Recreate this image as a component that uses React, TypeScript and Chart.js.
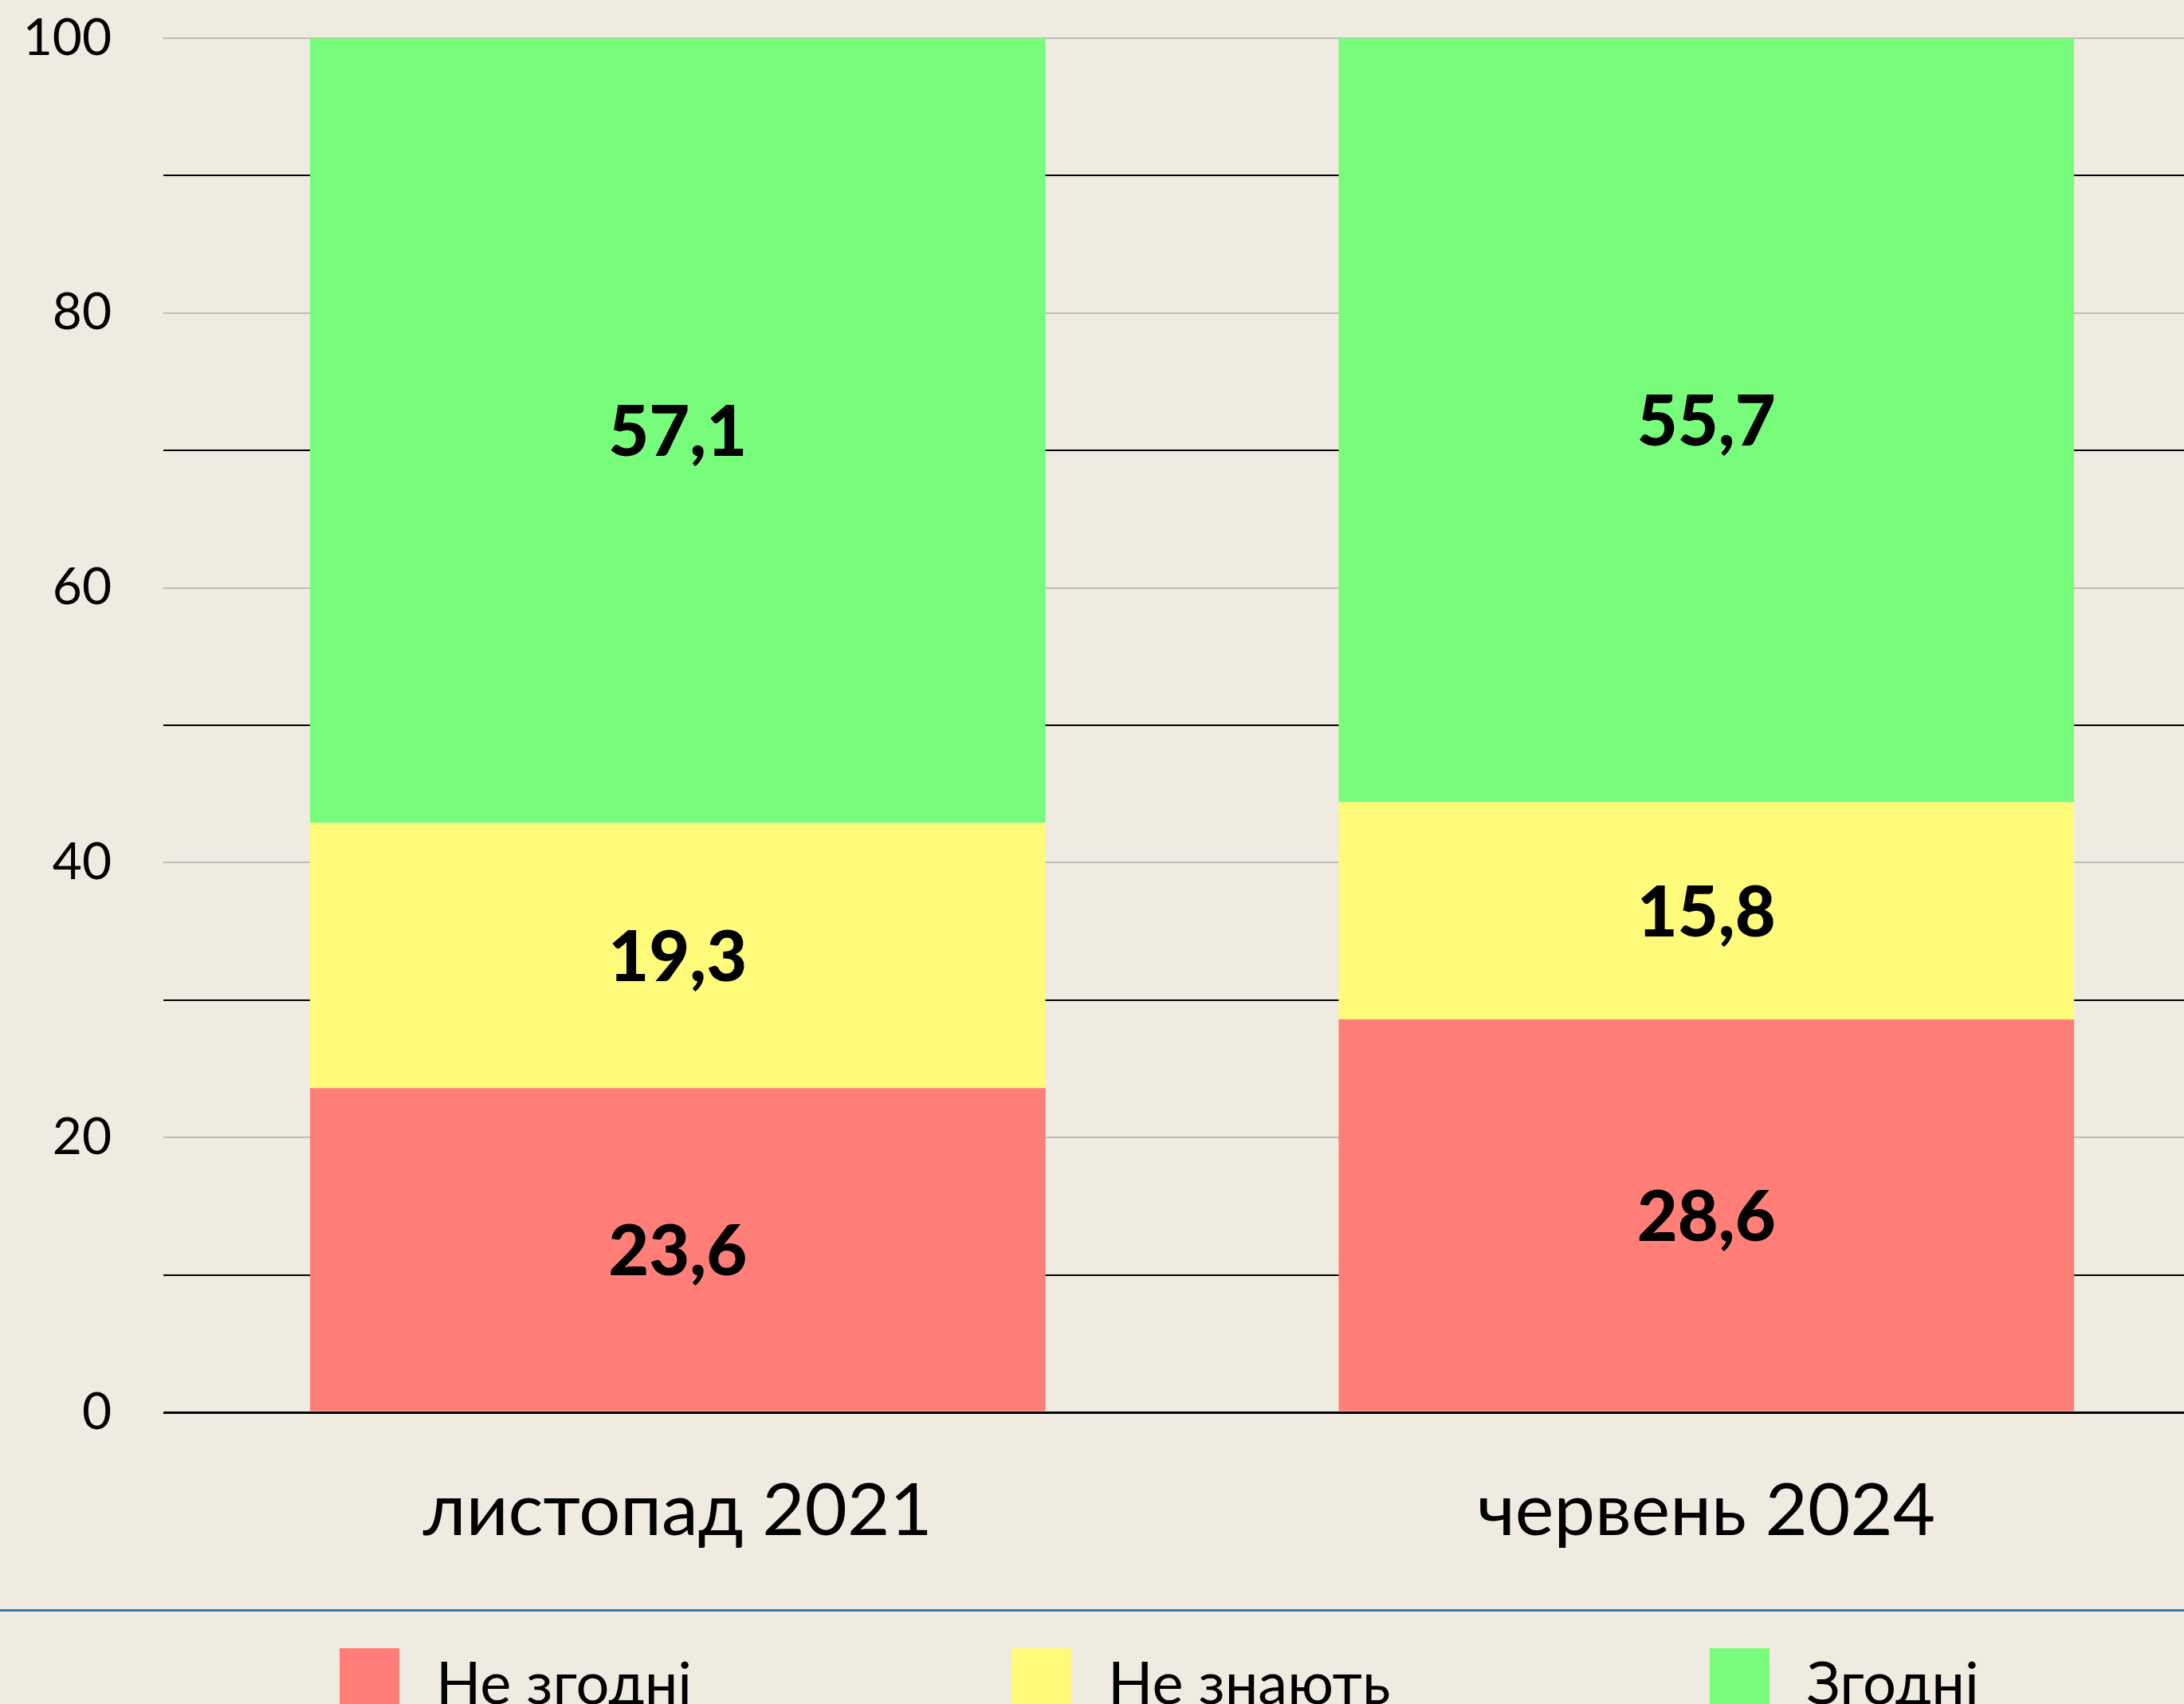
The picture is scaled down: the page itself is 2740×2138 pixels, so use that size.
import React, { useEffect, useRef } from "react";
import { Chart, registerables } from "chart.js";

Chart.register(...registerables);

const categories = ["листопад 2021", "червень 2024"];
const seriesLabels = ["Не згодні", "Не знають", "Згодні"];
const disagree = [23.6, 28.6];
const dontKnow = [19.3, 15.8];
const agree = [57.1, 55.7];
const seriesColors = ["#ff7e78", "#fffb7a", "#78fc7b"];
const yTickValues = [0, 20, 40, 60, 80, 100];

const BG = "#efebe1";
const FONT = "Lato, 'Open Sans', sans-serif";
const CANVAS_W = 2786;
const CANVAS_H = 1960;

const valueLabels = {
  id: "valueLabels",
  afterDatasetsDraw(chart: any) {
    const ctx = chart.ctx;
    ctx.save();
    ctx.fillStyle = "#000";
    ctx.font = `900 88px ${FONT}`;
    ctx.textAlign = "center";
    ctx.textBaseline = "alphabetic";
    chart.data.datasets.forEach((ds: any, di: number) => {
      const meta = chart.getDatasetMeta(di);
      meta.data.forEach((el: any, i: number) => {
        const v = ds.data[i];
        const top = Math.max(el.y, chart.chartArea.top);
        const cy = (top + el.base) / 2;
        ctx.fillText(v.toFixed(1).replace(".", ","), el.x, cy + 32);
      });
    });
    ctx.restore();
  },
};

export default function App() {
  const ref = useRef<HTMLCanvasElement>(null);
  useEffect(() => {
    if (!ref.current) return;
    const chart = new Chart(ref.current, {
      type: "bar",
      data: {
        labels: categories,
        datasets: [disagree, dontKnow, agree].map((d, i) => ({
          label: seriesLabels[i],
          data: d,
          backgroundColor: seriesColors[i],
          borderWidth: 0,
          barPercentage: 0.715,
          categoryPercentage: 1,
        })),
      },
      options: {
        animation: false,
        responsive: false,
        devicePixelRatio: 1,
        layout: { padding: { top: 48, left: 0, right: 0, bottom: 0 } },
        plugins: { legend: { display: false }, tooltip: { enabled: false } },
        scales: {
          x: {
            stacked: true,
            grid: { display: false, drawTicks: false },
            border: { display: false },
            afterFit: (s: any) => {
              s.height = CANVAS_H - 48 - 1724;
              s.paddingLeft = 0;
              s.paddingRight = 0;
            },
            ticks: {
              color: "#000",
              padding: 69,
              font: { family: FONT, size: 92 },
            },
          },
          y: {
            stacked: true,
            min: 0,
            max: 100,
            afterFit: (s: any) => {
              s.width = 205;
              s.paddingTop = 0;
              s.paddingBottom = 0;
            },
            border: { display: false },
            grid: {
              drawTicks: false,
              color: (c: any) =>
                c.tick && c.tick.value !== 0 && c.tick.value % 20 === 0 ? "#bdbdbd" : "#000",
              lineWidth: (c: any) => (c.tick && c.tick.value === 0 ? 3 : 2),
            },
            ticks: {
              stepSize: 10,
              autoSkip: false,
              padding: 65,
              color: "#000",
              font: { family: FONT, size: 64 },
              callback: (v: any) => (yTickValues.includes(Number(v)) ? String(v) : ""),
            },
          },
        },
      },
      plugins: [valueLabels],
    });
    return () => chart.destroy();
  }, []);

  return (
    <div
      style={{
        position: "fixed",
        left: 0,
        top: 0,
        width: 2740,
        height: 2138,
        overflow: "hidden",
        background: BG,
      }}
    >
      <canvas
        ref={ref}
        width={CANVAS_W}
        height={CANVAS_H}
        style={{ position: "absolute", left: 0, top: 0 }}
      />
      <div
        style={{
          position: "absolute",
          left: 0,
          top: 2019,
          width: 2740,
          height: 3,
          background: "#2c7bb1",
        }}
      />
      <div
        style={{
          position: "absolute",
          left: 426,
          top: 2068,
          display: "flex",
          gap: 401,
          fontFamily: FONT,
          fontSize: 74,
          color: "#000",
          whiteSpace: "nowrap",
        }}
      >
        {seriesLabels.map((l, i) => (
          <div key={l} style={{ display: "flex", alignItems: "flex-start" }}>
            <div style={{ width: 75, height: 75, background: seriesColors[i], marginRight: 46 }} />
            <span style={{ lineHeight: "74px", marginTop: 5 }}>{l}</span>
          </div>
        ))}
      </div>
    </div>
  );
}
